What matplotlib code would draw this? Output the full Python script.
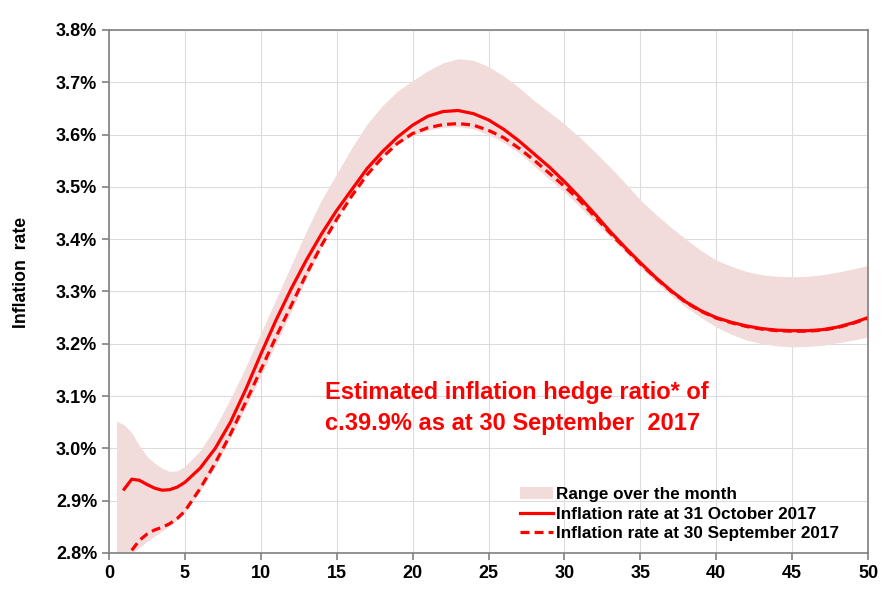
import matplotlib.pyplot as plt
from matplotlib.ticker import FuncFormatter

plt.rcParams['font.family'] = ['Liberation Sans', 'DejaVu Sans']

# term (years) and range of the inflation curve over the month
band_x = [0.5, 1, 1.5, 2, 2.5, 3, 3.5, 4, 4.5, 5, 6, 7, 8, 9, 10, 11, 12, 13, 14, 15, 16, 17, 18, 19, 20,
          21, 22, 23, 24, 25, 26, 27, 28, 29, 30, 31, 32, 33, 34, 35, 36, 37, 38, 39, 40,
          41, 42, 43, 44, 45, 46, 47, 48, 49, 50]
band_hi = [3.052, 3.045, 3.03, 3.005, 2.985, 2.972, 2.962, 2.956, 2.957, 2.966, 2.995, 3.04, 3.095, 3.155,
           3.22, 3.285, 3.35, 3.415, 3.475, 3.525, 3.575, 3.62, 3.655, 3.683, 3.703,
           3.722, 3.737, 3.745, 3.742, 3.73, 3.712, 3.69, 3.665, 3.643, 3.62, 3.595, 3.567, 3.538, 3.507, 3.475,
           3.448, 3.423, 3.40, 3.378, 3.36, 3.348, 3.338, 3.332, 3.329, 3.328, 3.329, 3.332, 3.337, 3.343, 3.35]
band_lo = [2.80, 2.80, 2.80, 2.81, 2.822, 2.832, 2.842, 2.852, 2.864, 2.878, 2.918, 2.965, 3.02, 3.078,
           3.138, 3.2, 3.262, 3.325, 3.385, 3.44, 3.485, 3.525, 3.557, 3.582, 3.598,
           3.608, 3.614, 3.615, 3.611, 3.60, 3.585, 3.565, 3.54, 3.515, 3.49, 3.462, 3.433, 3.404, 3.375, 3.345,
           3.318, 3.293, 3.27, 3.25, 3.232, 3.218, 3.207, 3.2, 3.196, 3.194, 3.195, 3.197, 3.202, 3.207, 3.213]

oct_x = [1, 1.5, 2, 2.5, 3, 3.5, 4, 4.5, 5, 6, 7, 8, 9, 10, 11, 12, 13, 14, 15, 16, 17, 18, 19, 20,
         21, 22, 23, 24, 25, 26, 27, 28, 29, 30, 31, 32, 33, 34, 35, 36, 37, 38, 39, 40,
         41, 42, 43, 44, 45, 46, 47, 48, 49, 50]
oct_y = [2.922, 2.941, 2.939, 2.931, 2.924, 2.92, 2.921, 2.926, 2.935, 2.962, 3.00, 3.05, 3.112, 3.18, 3.245,
         3.305, 3.36, 3.41, 3.455, 3.495, 3.535, 3.567, 3.595, 3.618, 3.635, 3.644, 3.646, 3.64, 3.628, 3.61,
         3.588, 3.563, 3.538, 3.51, 3.48, 3.448, 3.415, 3.384, 3.355, 3.327, 3.302, 3.28, 3.263, 3.25,
         3.241, 3.234, 3.229, 3.226, 3.225, 3.225, 3.227, 3.232, 3.24, 3.25]

sep_x = [1.5, 2, 2.5, 3, 3.5, 4, 4.5, 5, 6, 7, 8, 9, 10, 11, 12, 13, 14, 15, 16, 17, 18, 19, 20,
         21, 22, 23, 24, 25, 26, 27, 28, 29, 30, 31, 32, 33, 34, 35, 36, 37, 38, 39, 40,
         41, 42, 43, 44, 45, 46, 47, 48, 49, 50]
sep_y = [2.805, 2.824, 2.836, 2.844, 2.849, 2.856, 2.866, 2.88, 2.923, 2.972, 3.027, 3.088, 3.15, 3.213,
         3.273, 3.333, 3.388, 3.438, 3.483, 3.523, 3.556, 3.583, 3.602, 3.613, 3.619, 3.621, 3.618, 3.608,
         3.594, 3.574, 3.551, 3.526, 3.501, 3.474, 3.443, 3.412, 3.382, 3.353, 3.326, 3.301, 3.279, 3.262,
         3.249, 3.24, 3.233, 3.228, 3.225, 3.224, 3.224, 3.226, 3.231, 3.239, 3.249]

red = '#ff0000'

fig = plt.figure(figsize=(8.91, 6.05), dpi=100)
ax = fig.add_axes([0.1223, 0.086, 0.852, 0.8645])

ax.fill_between(band_x, band_lo, band_hi, color='#f2dbdb', lw=0, label='Range over the month')
ax.plot(oct_x, oct_y, color=red, lw=2.3, label='Inflation rate at 31 October 2017')
ax.plot(sep_x, sep_y, color=red, lw=2.3, dashes=(2.8, 1.6), label='Inflation rate at 30 September 2017')

ax.set_xlim(0, 50)
ax.set_ylim(2.8, 3.8)
ax.set_xticks(range(0, 51, 5))
ax.set_yticks([2.8 + 0.1 * i for i in range(11)])
ax.yaxis.set_major_formatter(FuncFormatter(lambda v, p: '%.1f%%' % v))
ax.grid(True, color='#dcdcdc', lw=0.8)
ax.set_axisbelow(True)
for s in ax.spines.values():
    s.set_color('#808080')
    s.set_linewidth(1.2)
ax.tick_params(colors='#808080', labelcolor='black', length=5, width=1.2, labelsize=13)
for lab in ax.get_xticklabels() + ax.get_yticklabels():
    lab.set_fontweight('bold')

ax.set_ylabel('Inflation  rate', fontsize=12.7, fontweight='bold')
ax.yaxis.set_label_coords(-0.104, 0.537)

ax.text(14.23, 0.278, 'Estimated inflation hedge ratio* of\nc.39.9% as at 30 September  2017',
        transform=ax.get_xaxis_transform(), ha='left', va='center', color=red,
        fontsize=17, fontweight='bold', linespacing=1.45)

leg = ax.legend(loc='lower left', bbox_to_anchor=(0.5415, 0.023), frameon=False, fontsize=12.3,
                handlelength=1.95, handletextpad=0.18, labelspacing=0.25, borderpad=0, borderaxespad=0)
for t in leg.get_texts():
    t.set_fontweight('bold')

fig.savefig('out.png', dpi=100)
